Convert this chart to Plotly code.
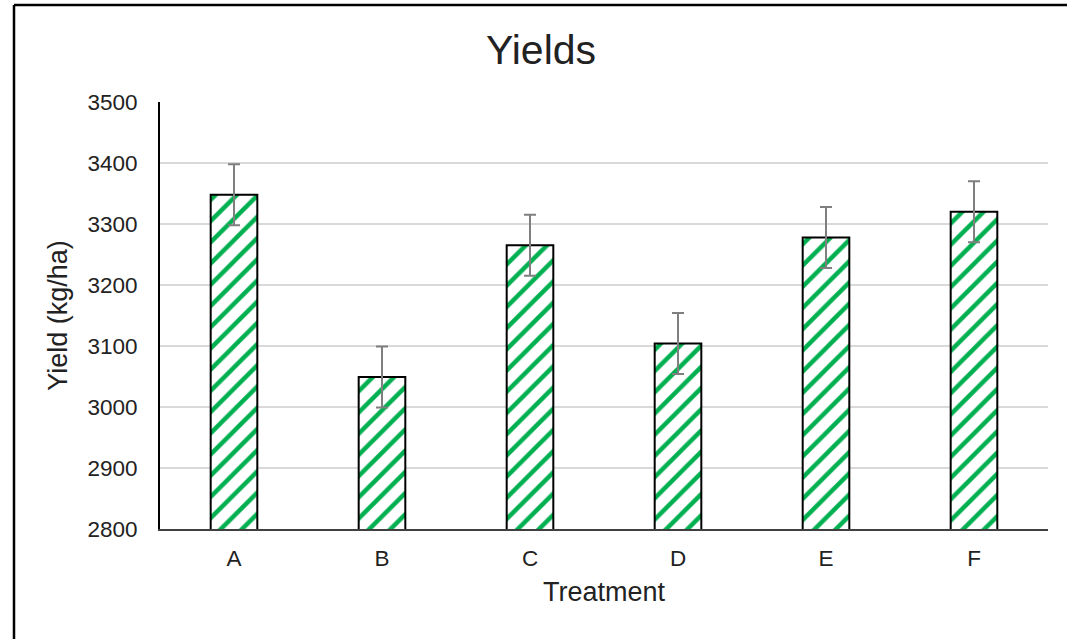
import plotly.graph_objects as go

categories = ["A", "B", "C", "D", "E", "F"]
yields = [3348, 3049, 3265, 3104, 3278, 3320]
errors = [50, 50, 50, 50, 50, 50]
y_ticks = [2800, 2900, 3000, 3100, 3200, 3300, 3400, 3500]

W, H = 1067, 639
L, R, T, B = 160, 19, 102, 110
PW, PH = W - L - R, H - T - B

FONT = "Liberation Sans, Arial, sans-serif"

fig = go.Figure()
fig.add_trace(go.Bar(
    x=categories, y=yields,
    marker=dict(
        color="white",
        line=dict(color="black", width=2),
        pattern=dict(shape="/", fgcolor="#00B050", bgcolor="white",
                     size=15, solidity=0.3, fillmode="replace"),
    ),
    error_y=dict(type="data", array=errors, visible=True,
                 color="#7F7F7F", thickness=2, width=6),
    showlegend=False,
))

def px_x(p):
    return (p - L) / PW

def px_y(p):
    return (H - B - p) / PH

fig.update_layout(
    width=W, height=H,
    margin=dict(l=L, r=R, t=T, b=B, pad=0),
    paper_bgcolor="white", plot_bgcolor="white",
    bargap=0.685,
    font=dict(family=FONT, color="#222222"),
    title=dict(text="Yields", x=541 / W, xref="container", y=1 - 50 / H, yref="container",
               xanchor="center", yanchor="middle",
               font=dict(size=41, family=FONT, color="#222222")),
    xaxis=dict(
        title=dict(text="Treatment", font=dict(size=27), standoff=12),
        tickfont=dict(size=22.5),
        showline=True, linecolor="#404040", linewidth=2,
        showgrid=False, ticks="", ticklabelstandoff=8,
    ),
    yaxis=dict(
        title=dict(text="Yield (kg/ha)", font=dict(size=27), standoff=12),
        range=[y_ticks[0], y_ticks[-1]],
        tickvals=y_ticks,
        tickfont=dict(size=22.5),
        showline=True, linecolor="black", linewidth=2,
        showgrid=True, gridcolor="#D9D9D9", gridwidth=1.5,
        ticks="", ticklabelstandoff=16, zeroline=False,
    ),
    shapes=[
        dict(type="line", xref="paper", yref="paper",
             x0=px_x(14), x1=px_x(W + 5), y0=px_y(5), y1=px_y(5),
             line=dict(color="black", width=2.5)),
        dict(type="line", xref="paper", yref="paper",
             x0=px_x(14), x1=px_x(14), y0=px_y(5), y1=px_y(H + 5),
             line=dict(color="black", width=2.5)),
    ],
)

fig.write_html("out.html", config={"displayModeBar": False},
               post_script="document.body.style.margin='0';")
